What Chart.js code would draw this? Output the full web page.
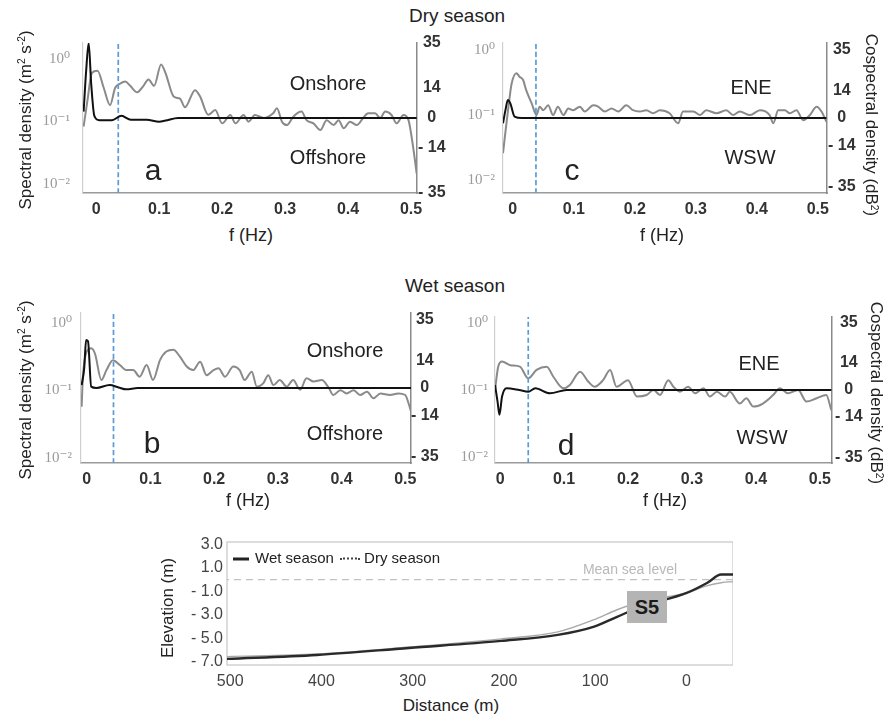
<!DOCTYPE html>
<html>
<head>
<meta charset="utf-8">
<script src="https://cdn.jsdelivr.net/npm/chart.js@4.4.1/dist/chart.umd.min.js"></script>
<style>
  body { margin: 0; background: #fff; }
  #wrap { position: relative; width: 896px; height: 719px; overflow: hidden; background: #fff;
          font-family: "Liberation Sans", Arial, sans-serif; color: #222; }
  canvas { position: absolute; }
  .t { position: absolute; transform: translate(-50%, -50%); line-height: 1; white-space: nowrap; }
  .t sup { font-size: 0.6em; vertical-align: 0.55em; line-height: 0; }
</style>
</head>
<body>
<div id="wrap"></div>
<script>
// ---------- data ----------
const freqTicks = [0, 0.1, 0.2, 0.3, 0.4, 0.5];
const cospecTicks = [35, 14, 0, -14, -35];
const logTicks = [1, 0.1, 0.01];

// (a) dry season, onshore / offshore
const fGrayA = [-0.020, -0.014, -0.007, 0.002, 0.012, 0.022, 0.030, 0.038, 0.046, 0.054, 0.065, 0.075, 0.083, 0.092, 0.103, 0.110, 0.123, 0.133, 0.141, 0.157, 0.165, 0.178, 0.189, 0.200, 0.213, 0.221, 0.234, 0.242, 0.252, 0.266, 0.281, 0.287, 0.295, 0.303, 0.313, 0.326, 0.334, 0.345, 0.356, 0.366, 0.377, 0.385, 0.393, 0.403, 0.414, 0.424, 0.432, 0.443, 0.451, 0.459, 0.469, 0.477, 0.488, 0.496, 0.504, 0.509];
const vGrayA = [-4, 8, 21, 22, 14, 6, 14, 16, 17, 15, 12, 15, 18, 15, 25, 21, 10, 9, 5, 13, 10, 1.5, 3.7, -2.5, 1.4, -2.5, 1.4, -1.7, 1.4, 0, 2.2, 4.5, -1.7, -3.3, 0.6, 3, -1, -2.5, -5.6, -1, -3.3, -1, -4.8, -1.7, -3.3, 0, 2.2, 2.2, 0, 3, 1.4, -2.5, 1.4, -1, -15, -26];
const fBlackA = [-0.020, -0.016, -0.012, -0.008, -0.003, 0.005, 0.025, 0.040, 0.055, 0.080, 0.100, 0.110, 0.130, 0.250, 0.400, 0.509];
const vBlackA = [3, 22, 35, 16, 1, -1, -1, 1, -0.8, -0.8, -1.7, -1.2, 0, 0, 0, 0];

// (c) dry season, ENE / WSW
const fGrayC = [-0.016, -0.011, -0.005, -0.002, 0.006, 0.011, 0.017, 0.022, 0.031, 0.039, 0.044, 0.050, 0.058, 0.066, 0.074, 0.083, 0.091, 0.099, 0.110, 0.118, 0.132, 0.140, 0.151, 0.162, 0.173, 0.186, 0.197, 0.208, 0.219, 0.230, 0.241, 0.257, 0.271, 0.279, 0.296, 0.307, 0.317, 0.334, 0.350, 0.361, 0.372, 0.389, 0.405, 0.421, 0.427, 0.435, 0.446, 0.454, 0.465, 0.476, 0.487, 0.498, 0.506, 0.514];
const vGrayC = [-18, -4.4, 10.9, 17.4, 22.9, 21.1, 19.4, 14.2, 7.5, 1.5, 5.8, 4, 6.5, 1.5, 5.8, 1.5, 4.9, 4, 5.8, 3.3, 6.5, 5.8, 3.3, 4.9, 3.3, 6.5, 4, 3.3, 4, 2.4, 4, 2.4, -2.7, 3.3, 3.3, 1.5, 4, 2.4, 4, 1.5, 3.3, 1.5, 4, 1.5, -2.7, 4, 4, 2.4, 4, -1.1, 1.5, 5.8, 3.3, -1.9];
const fBlackC = [-0.016, -0.012, -0.008, -0.004, 0.003, 0.015, 0.514];
const vBlackC = [-2.7, 4, 9.2, 7.5, 0.7, 0, 0];

// (b) wet season, onshore / offshore
const fGrayB = [-0.008, -0.006, 0.000, 0.007, 0.013, 0.023, 0.031, 0.041, 0.052, 0.062, 0.073, 0.083, 0.094, 0.104, 0.115, 0.125, 0.136, 0.146, 0.157, 0.167, 0.178, 0.188, 0.199, 0.207, 0.217, 0.230, 0.240, 0.248, 0.259, 0.267, 0.277, 0.285, 0.293, 0.303, 0.314, 0.324, 0.335, 0.345, 0.356, 0.369, 0.380, 0.387, 0.398, 0.408, 0.419, 0.429, 0.440, 0.450, 0.461, 0.476, 0.489, 0.500, 0.505, 0.510];
const vGrayB = [-9.6, 5.8, 18.7, 20.4, 17.6, 4.1, 9.2, 14.3, 11.8, 9.2, 9.2, 5.8, 11.8, 4.1, 14.3, 18.7, 19.6, 16.2, 11, 9.2, 13.5, 6.6, 9.2, 10.1, 5.8, 11, 9.2, 4.1, 8.4, 0.7, 2.4, 6.6, 1.5, 4.1, 0.7, 4.1, -0.9, 5, 3.3, 4.1, 0, -3.6, -1.1, -2.8, -1.1, -3.6, -1.9, -5.3, -2.8, -3.6, -2.8, -3.6, -7.7, -13.2];
const fBlackB = [-0.008, -0.004, -0.001, 0.002, 0.007, 0.015, 0.036, 0.050, 0.062, 0.080, 0.509];
const vBlackB = [1.5, 10, 24.6, 24, 0.7, 0, 1.5, 0.3, -0.7, 0, 0];

// (d) wet season, ENE / WSW
const fGrayD = [-0.008, -0.003, 0.003, 0.016, 0.031, 0.044, 0.057, 0.073, 0.083, 0.099, 0.109, 0.125, 0.138, 0.148, 0.161, 0.172, 0.182, 0.200, 0.214, 0.229, 0.240, 0.250, 0.263, 0.271, 0.281, 0.294, 0.305, 0.318, 0.328, 0.339, 0.352, 0.359, 0.375, 0.385, 0.396, 0.411, 0.427, 0.4375, 0.450, 0.466, 0.479, 0.495, 0.510, 0.518];
const vGrayD = [0, 12.1, 14.7, 12.8, 12.1, 6, 10.4, 12.1, 7, 0.9, 2.6, 9.5, 4.3, 1.7, 5.1, 10.4, 1.7, 5.1, -3.4, -2.6, 0, -2.6, 5.1, 1.7, -0.9, 1.7, -1.7, 0.9, -3.4, -0.9, -3.4, -0.9, -7, -4.3, -8.6, -7, -2.6, 0.9, -1.7, 0, -6, -4.3, -2.6, -10.4];
const fBlackD = [-0.008, -0.004, -0.001, 0.003, 0.010, 0.030, 0.044, 0.055, 0.078, 0.104, 0.518];
const vBlackD = [2.6, -6, -12.8, -3.4, 0.9, 0, -0.9, 0.9, -1.7, 0, 0];

// beach profile S5
const distTicks = [0, 100, 200, 300, 400, 500];
const elevTicks = [3, 1, -1, -3, -5, -7];
const distWet = [506, 405, 304, 203, 141, 102, 76, 50, -1, -23, -38, -51];
const elevWet = [-6.75, -6.41, -5.81, -5.21, -4.70, -4.02, -3.16, -2.31, -1.1, -0.26, 0.43, 0.43];
const distDry = [506, 405, 304, 203, 141, 102, 76, 50, -1, -23, -38, -51];
const elevDry = [-6.55, -6.32, -5.73, -5.04, -4.44, -3.42, -2.56, -1.88, -1.1, -0.51, -0.26, -0.17];
const mslDist = [-51, 505];
const mslElev = [0, 0];

// ---------- drawing ----------
Chart.defaults.font.family = '"Liberation Sans", Arial, sans-serif';
const wrap = document.getElementById('wrap');

function pts(xs, ys) {
  return xs.map((x, i) => ({ x: x, y: ys[i] }));
}

function makeCanvas(left, top, w, h) {
  const c = document.createElement('canvas');
  c.width = w; c.height = h;
  c.style.left = left + 'px'; c.style.top = top + 'px';
  c.style.width = w + 'px'; c.style.height = h + 'px';
  wrap.appendChild(c);
  return c;
}

function txt(s, x, y, size, extra) {
  const d = document.createElement('div');
  d.className = 't';
  d.innerHTML = s;
  d.style.left = x + 'px';
  d.style.top = y + 'px';
  d.style.fontSize = size + 'px';
  if (extra) Object.assign(d.style, extra);
  wrap.appendChild(d);
  return d;
}

const supLabel = { 1: '10\u2070', 0.1: '10\u207B\u00B9', 0.01: '10\u207B\u00B2' };

function freqPanel(p) {
  const L = 70, R = 42, T = 14, B = 30;
  const cv = makeCanvas(p.x - L, p.y - T, p.w + L + R, p.h + T + B);
  new Chart(cv, {
    type: 'line',
    data: {
      datasets: [
        { data: pts(p.fBlack, p.vBlack), borderColor: '#111', borderWidth: 2, yAxisID: 'yR' },
        { data: [{ x: p.cut, y: -p.lim }, { x: p.cut, y: p.lim }], borderColor: '#5b9bd5',
          borderWidth: 1.7, borderDash: [5, 3], yAxisID: 'yR' },
        { data: pts(p.fGray, p.vGray), borderColor: '#8a8a8a', borderWidth: 2, yAxisID: 'yR' }
      ]
    },
    options: {
      responsive: false,
      animation: false,
      layout: { padding: { top: T, left: 0, right: 0, bottom: 0 } },
      elements: { point: { radius: 0 }, line: { cubicInterpolationMode: 'monotone' } },
      plugins: { legend: { display: false }, tooltip: { enabled: false } },
      scales: {
        x: {
          type: 'linear', min: p.fMin, max: p.fMax,
          afterBuildTicks: s => { s.ticks = freqTicks.map(v => ({ value: v })); },
          afterFit: s => { s.height = B; },
          grid: { display: false, tickLength: 7 },
          border: { color: '#9a9a9a', width: 1.5, dash: [2, 2] },
          ticks: { padding: 0, color: '#333', font: { size: 16, weight: 'bold' },
                   callback: v => String(v) }
        },
        yL: {
          type: 'logarithmic', position: 'left', display: true,
          min: Math.pow(10, p.logMin), max: Math.pow(10, p.logMax),
          afterBuildTicks: s => { s.ticks = logTicks.map(v => ({ value: v })); },
          afterFit: s => { s.width = L; },
          grid: { display: false, tickLength: p.lpad },
          border: { color: '#cfcfcf', width: 1.2 },
          ticks: { padding: 0, color: '#9a9a9a',
                   font: { family: '"Liberation Serif", "DejaVu Serif", serif', size: 15 },
                   callback: v => supLabel[v] || '' }
        },
        yR: {
          type: 'linear', position: 'right', min: -p.lim, max: p.lim,
          afterBuildTicks: s => { s.ticks = cospecTicks.map(v => ({ value: v })); },
          afterFit: s => { s.width = R; },
          grid: { display: false, tickLength: p.rpad },
          border: { color: '#8a8a8a', width: 1.5 },
          ticks: { padding: 0, crossAlign: 'center', color: '#333', font: { size: 16, weight: 'bold' },
                   callback: v => v < 0 ? '- ' + (-v) : String(v) }
        }
      }
    }
  });
}

freqPanel({ x: 83, y: 43, w: 334, h: 150, fMin: -0.021, fMax: 0.5095, lim: 35, logMin: -2.15, logMax: 0.25,
            lpad: 13, rpad: 1, cut: 0.035, fGray: fGrayA, vGray: vGrayA, fBlack: fBlackA, vBlack: vBlackA });
freqPanel({ x: 503, y: 43, w: 324, h: 150, fMin: -0.016, fMax: 0.515, lim: 38.3, logMin: -2.2, logMax: 0.108,
            lpad: 8, rpad: 1, cut: 0.038, fGray: fGrayC, vGray: vGrayC, fBlack: fBlackC, vBlack: vBlackC });
freqPanel({ x: 81, y: 313, w: 330, h: 150, fMin: -0.009, fMax: 0.509, lim: 38.5, logMin: -2.074, logMax: 0.148,
            lpad: 9, rpad: 0, cut: 0.042, fGray: fGrayB, vGray: vGrayB, fBlack: fBlackB, vBlack: vBlackB });
freqPanel({ x: 495, y: 317, w: 337, h: 146, fMin: -0.008, fMax: 0.519, lim: 37.8, logMin: -2.09, logMax: 0.09,
            lpad: 7, rpad: 3, cut: 0.044, fGray: fGrayD, vGray: vGrayD, fBlack: fBlackD, vBlack: vBlackD });

// profile chart
const boxPlugin = {
  id: 'box',
  beforeDatasetsDraw(chart) {
    const a = chart.chartArea, ctx = chart.ctx;
    ctx.save();
    ctx.strokeStyle = '#c6c6c6';
    ctx.lineWidth = 1.2;
    ctx.strokeRect(a.left, a.top, a.right - a.left, a.bottom - a.top);
    ctx.restore();
  }
};

(function () {
  const L = 70, R = 10, T = 10, B = 30;
  const px = 227, py = 542, pw = 496, ph = 123;
  const cv = makeCanvas(px - L, py - T, pw + L + R, ph + T + B);
  new Chart(cv, {
    type: 'line',
    data: {
      datasets: [
        { data: pts(distWet, elevWet), borderColor: '#2a2a2a', borderWidth: 2.4 },
        { data: pts(distDry, elevDry), borderColor: '#a9a9a9', borderWidth: 1.4 },
        { data: pts(mslDist, mslElev), borderColor: '#c2c2c2', borderWidth: 1.4, borderDash: [7, 5],
          cubicInterpolationMode: 'default', tension: 0 }
      ]
    },
    options: {
      responsive: false,
      animation: false,
      layout: { padding: { top: T, left: 0, right: 0, bottom: 0 } },
      elements: { point: { radius: 0 }, line: { cubicInterpolationMode: 'monotone' } },
      plugins: { legend: { display: false }, tooltip: { enabled: false } },
      scales: {
        x: {
          type: 'linear', reverse: true, min: -51, max: 503.5,
          afterBuildTicks: s => { s.ticks = distTicks.map(v => ({ value: v })); },
          afterFit: s => { s.height = B; },
          grid: { display: false, tickLength: 7 },
          border: { display: false },
          ticks: { padding: 0, color: '#444', font: { size: 16 }, callback: v => String(v) }
        },
        y: {
          type: 'linear', min: -7.26, max: 3.2,
          afterBuildTicks: s => { s.ticks = elevTicks.map(v => ({ value: v })); },
          afterFit: s => { s.width = L; },
          grid: { display: false, tickLength: 4 },
          border: { display: false },
          ticks: { padding: 0, color: '#444', font: { size: 16 },
                   callback: v => v < 0 ? '- ' + (-v).toFixed(1) : v.toFixed(1) }
        }
      }
    },
    plugins: [boxPlugin]
  });
})();

// ---------- text ----------
txt('Dry season', 457, 15, 19);
txt('Wet season', 455, 285, 19);

txt('f (Hz)', 251, 235, 18);
txt('f (Hz)', 662, 235, 18);
txt('f (Hz)', 248, 500, 18);
txt('f (Hz)', 665, 500, 18);

const spec = 'Spectral density (m<sup>2</sup> s<sup>-2</sup>)';
const cosp = 'Cospectral density (dB<sup>2</sup>)';
txt(spec, 25, 120, 17, { transform: 'translate(-50%,-50%) rotate(-90deg)' });
txt(spec, 25, 390, 17, { transform: 'translate(-50%,-50%) rotate(-90deg)' });
txt(cosp, 871, 125, 17, { transform: 'translate(-50%,-50%) rotate(90deg)' });
txt(cosp, 876, 393, 17, { transform: 'translate(-50%,-50%) rotate(90deg)' });

txt('Onshore', 328, 83, 20);
txt('Offshore', 328, 157, 20);
txt('a', 153, 170, 30);
txt('ENE', 751, 87, 20);
txt('WSW', 750, 157, 20);
txt('c', 572, 170, 30);
txt('Onshore', 345, 350, 20);
txt('Offshore', 345, 433, 20);
txt('b', 152, 443, 30);
txt('ENE', 759, 363, 20);
txt('WSW', 762, 437, 20);
txt('d', 566, 445, 30);

// profile annotations
txt('Elevation (m)', 167, 608, 17, { transform: 'translate(-50%,-50%) rotate(-90deg)' });
txt('Distance (m)', 451, 705, 17);
txt('Mean sea level', 630, 569, 14, { color: '#b8b8b8' });
txt('S5', 647, 607, 20, { fontWeight: 'bold', width: '40px', height: '32px', lineHeight: '32px',
                          textAlign: 'center', background: '#b4b4b4', color: '#1a1a1a' });

txt('<span style="display:inline-block;width:16px;border-top:3px solid #222;vertical-align:middle;margin-right:6px"></span>Wet season ' +
    '<span style="display:inline-block;width:20px;border-top:2px dotted #444;vertical-align:middle;margin:0 4px 0 2px"></span>Dry season',
    233, 557, 15, { transform: 'translate(0,-50%)' });
</script>
</body>
</html>
